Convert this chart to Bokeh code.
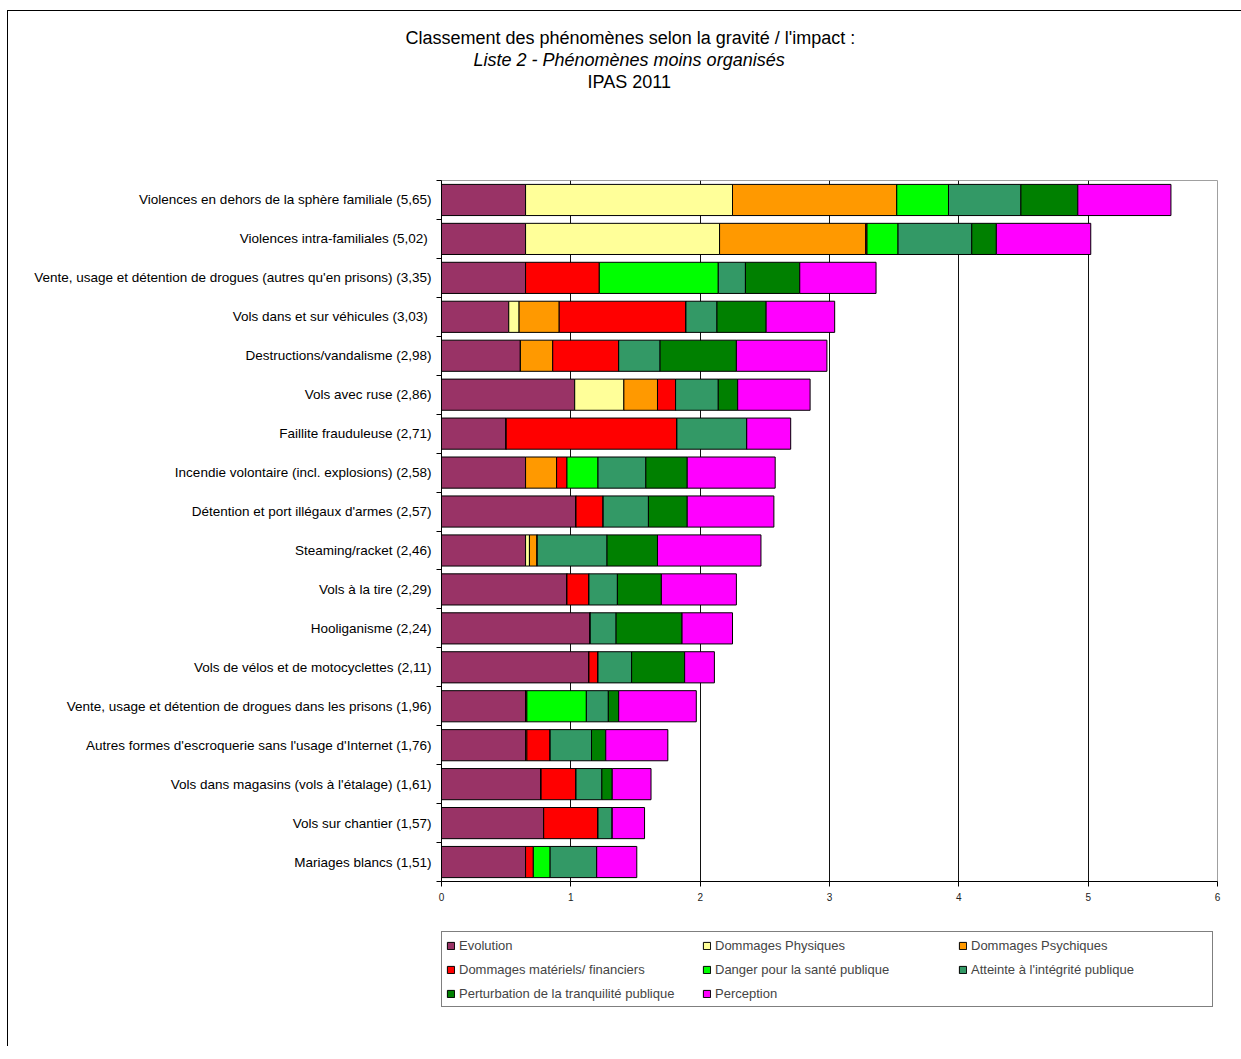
from bokeh.plotting import figure
from bokeh.models import (Range1d, FixedTicker, Legend, LegendItem, ColumnDataSource, Title)
from bokeh.layouts import column
from bokeh.embed import file_html
from bokeh.resources import INLINE

categories = [
    "Violences en dehors de la sphère familiale (5,65)",
    "Violences intra-familiales  (5,02)",
    "Vente, usage et détention de drogues (autres qu'en prisons) (3,35)",
    "Vols dans et sur véhicules  (3,03)",
    "Destructions/vandalisme (2,98)",
    "Vols avec ruse (2,86)",
    "Faillite frauduleuse (2,71)",
    "Incendie volontaire (incl. explosions) (2,58)",
    "Détention et port illégaux d'armes (2,57)",
    "Steaming/racket (2,46)",
    "Vols à la tire (2,29)",
    "Hooliganisme (2,24)",
    "Vols de vélos et de motocyclettes (2,11)",
    "Vente, usage et détention de drogues dans les prisons (1,96)",
    "Autres formes d'escroquerie sans l'usage d'Internet (1,76)",
    "Vols dans magasins (vols à l'étalage) (1,61)",
    "Vols sur chantier (1,57)",
    "Mariages blancs (1,51)",
]

series_names = [
    "Evolution",
    "Dommages Physiques",
    "Dommages Psychiques",
    "Dommages matériels/ financiers",
    "Danger pour la santé publique",
    "Atteinte à l'intégrité publique",
    "Perturbation de la tranquilité publique",
    "Perception",
]

evolution    = [0.65, 0.65, 0.65, 0.52, 0.61, 1.03, 0.50, 0.65, 1.04, 0.65, 0.97, 1.15, 1.14, 0.65, 0.65, 0.77, 0.79, 0.65]
physiques    = [1.60, 1.50, 0.00, 0.08, 0.00, 0.38, 0.00, 0.00, 0.00, 0.03, 0.00, 0.00, 0.00, 0.00, 0.00, 0.00, 0.00, 0.00]
psychiques   = [1.27, 1.13, 0.00, 0.31, 0.25, 0.26, 0.00, 0.24, 0.00, 0.06, 0.00, 0.00, 0.00, 0.00, 0.01, 0.00, 0.00, 0.00]
materiels    = [0.00, 0.01, 0.57, 0.98, 0.51, 0.14, 1.32, 0.08, 0.21, 0.00, 0.17, 0.00, 0.07, 0.01, 0.18, 0.27, 0.42, 0.06]
sante        = [0.40, 0.24, 0.92, 0.00, 0.00, 0.00, 0.00, 0.24, 0.00, 0.00, 0.00, 0.00, 0.00, 0.46, 0.00, 0.00, 0.00, 0.13]
integrite    = [0.56, 0.57, 0.21, 0.24, 0.32, 0.33, 0.54, 0.37, 0.35, 0.54, 0.22, 0.20, 0.26, 0.17, 0.32, 0.20, 0.11, 0.36]
tranquilite  = [0.44, 0.19, 0.42, 0.38, 0.59, 0.15, 0.00, 0.32, 0.30, 0.39, 0.34, 0.51, 0.41, 0.08, 0.11, 0.08, 0.00, 0.00]
perception   = [0.72, 0.73, 0.59, 0.53, 0.70, 0.56, 0.34, 0.68, 0.67, 0.80, 0.58, 0.39, 0.23, 0.60, 0.48, 0.30, 0.25, 0.31]

colors = ["#993366", "#FFFF99", "#FF9900", "#FF0000", "#00FF00", "#339966", "#008000", "#FF00FF"]

title_lines = [
    "Classement des phénomènes selon la gravité / l'impact :",
    "Liste 2 - Phénomènes moins organisés",
    "IPAS 2011",
]
x_ticks = [0, 1, 2, 3, 4, 5, 6]

FONT = "Liberation Sans"

ys = [i + 0.5 for i in range(len(categories))]
source = ColumnDataSource(dict(
    y=ys,
    s0=evolution, s1=physiques, s2=psychiques, s3=materiels,
    s4=sante, s5=integrite, s6=tranquilite, s7=perception,
))
stack_keys = ["s0", "s1", "s2", "s3", "s4", "s5", "s6", "s7"]

# ---------------- main chart ----------------
p = figure(frame_width=776, frame_height=701, output_backend="svg", toolbar_location=None,
           x_range=Range1d(0, 6), y_range=Range1d(len(categories), 0),
           min_border_left=433, min_border_right=24, min_border_top=0, min_border_bottom=40)

renderers = p.hbar_stack(stack_keys, y="y", height=0.8, color=colors,
                         line_color="#000000", line_width=1, source=source)

p.background_fill_color = "white"
p.border_fill_color = "white"
p.outline_line_color = "#a0a0a0"
p.outline_line_width = 1

p.ygrid.visible = False
p.xgrid.ticker = FixedTicker(ticks=[1, 2, 3, 4, 5])
p.xgrid.grid_line_color = "#111111"
p.xgrid.grid_line_width = 1

xa = p.xaxis[0]
xa.ticker = FixedTicker(ticks=x_ticks)
xa.axis_line_color = "#000000"
xa.major_tick_line_color = "#000000"
xa.major_tick_out = 5
xa.major_tick_in = 0
xa.minor_tick_line_color = None
xa.major_label_text_font = FONT
xa.major_label_text_font_size = "10px"
xa.major_label_text_color = "#222222"
xa.major_label_standoff = 6

ya = p.yaxis[0]
ya.ticker = FixedTicker(ticks=ys, minor_ticks=list(range(len(categories) + 1)))
ya.major_label_overrides = {y: c for y, c in zip(ys, categories)}
ya.axis_line_color = "#000000"
ya.major_tick_out = 0
ya.major_tick_in = 0
ya.major_tick_line_color = None
ya.minor_tick_out = 5
ya.minor_tick_in = 0
ya.minor_tick_line_color = "#000000"
ya.major_label_text_font = FONT
ya.major_label_text_font_size = "13.5px"
ya.major_label_text_color = "#000000"
ya.major_label_standoff = 5

# titles (above), nearest to the frame first
p.add_layout(Title(text=" ", text_font_size="1px", standoff=86), "above")   # spacer
title_styles = ["normal", "italic", "normal"]
title_offsets = [-36, 32, 146]
for t, st, off in reversed(list(zip(title_lines, title_styles, title_offsets))):
    p.add_layout(Title(text=t, align="left", offset=off, standoff=0,
                       text_font=FONT, text_font_size="18px", text_font_style=st,
                       text_color="#000000"), "above")
p.add_layout(Title(text=" ", text_font_size="1px", standoff=11), "above")   # spacer

# ---------------- legend strip ----------------
# same stacked series, drawn outside this strip's visible y-range (only the legend shows)
lg = figure(frame_width=776, frame_height=125, output_backend="svg", toolbar_location=None,
            x_range=Range1d(0, 6), y_range=Range1d(100, 101),
            x_axis_type=None, y_axis_type=None,
            min_border_left=433, min_border_right=24, min_border_top=0, min_border_bottom=0)
lg.grid.visible = False
lg.outline_line_color = None
lg.background_fill_color = "white"
lg.border_fill_color = "white"

legend_renderers = lg.hbar_stack(stack_keys, y="y", height=0.8, color=colors,
                                 line_color="#000000", line_width=1, source=source)
items = [LegendItem(label=n, renderers=[r]) for n, r in zip(series_names, legend_renderers)]
legend = Legend(items=items, location=(0, 39), orientation="horizontal", ncols=3,
                glyph_width=9, glyph_height=9, label_standoff=4, label_width=237,
                label_height=18, spacing=6, padding=4, margin=0,
                label_text_font=FONT, label_text_font_size="13px",
                border_line_color="#000000", border_line_width=1,
                background_fill_color="white", background_fill_alpha=1.0)
lg.add_layout(legend, "center")

layout = column(p, lg, spacing=0)
layout.styles = {"margin-left": "7px", "margin-top": "10px",
                 "border-top": "1px solid #000", "border-left": "1px solid #000"}

open("out.html", "w").write(file_html(layout, INLINE))
